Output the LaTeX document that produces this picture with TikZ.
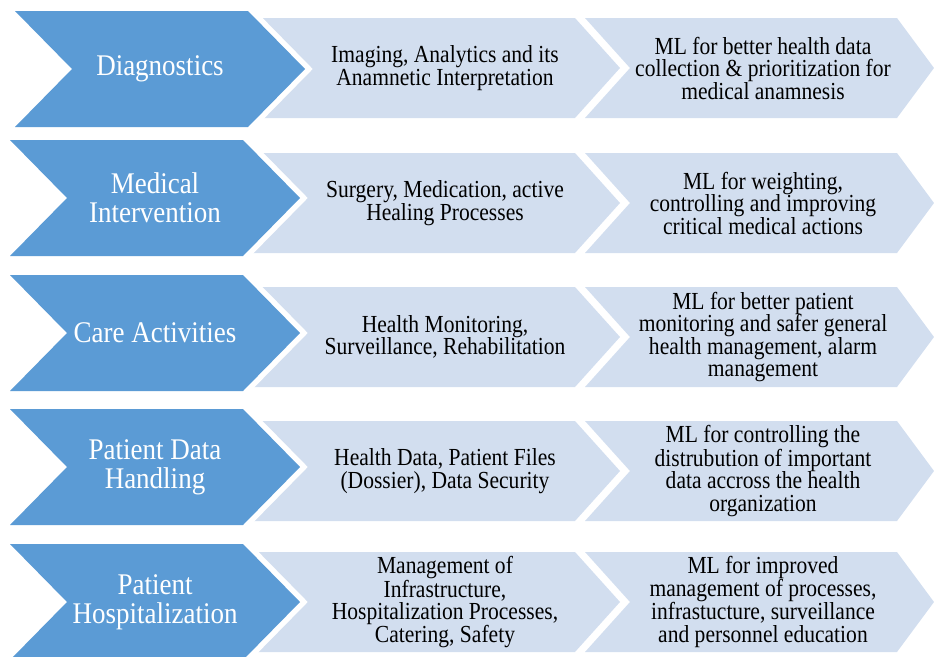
\documentclass[tikz,border=0pt]{standalone}
\usepackage{fontspec}
\setmainfont{Liberation Serif}
% slightly narrowed faces, so that the letters stand a little taller
\newfontfamily\headface{Liberation Serif}[FakeStretch=0.9]
\newfontfamily\bodyface{Liberation Serif}[FakeStretch=0.88]
\definecolor{stepdark}{RGB}{91,155,213}
\definecolor{steplight}{RGB}{210,222,239}

% One row of the process: dark heading chevron, then two light chevrons.
% #1 left x of heading chevron, #2 its top y, #3 top y of light chevrons,
% #4 name prefix, #5 heading, #6 middle text, #7 right text
\newcommand{\processrow}[7]{%
  \fill[lightarrow] (250,#3) -- (575,#3) -- (620,#3+50) -- (575,#3+100)
        -- (250,#3+100) -- (295,#3+50) -- cycle;
  \fill[lightarrow] (585,#3) -- (897,#3) -- (934,#3+50) -- (897,#3+100)
        -- (585,#3+100) -- (630,#3+50) -- cycle;
  \fill[darkarrow] (#1,#2) -- (#1+233,#2) -- (#1+290,#2+58) -- (#1+233,#2+116)
        -- (#1,#2+116) -- (#1+57,#2+58) -- cycle;
  \node[headtext] (#4-head) at (#1+145,#2+58) {#5};
  \node[bodytext] (#4-mid) at (445,#3+50) {#6};
  \node[bodytext] (#4-ml) at (763,#3+50) {#7};
}

\begin{document}
\begin{tikzpicture}[x=1pt,y=-1pt,
  darkarrow/.style={fill=stepdark,
    preaction={draw=white, line width=11pt, line join=miter}},
  lightarrow/.style={fill=steplight},
  headtext/.style={text=white, font=\headface\fontsize{30}{29}\selectfont,
    align=center, inner sep=0pt},
  bodytext/.style={text=black, font=\bodyface\fontsize{24.5}{22.5}\selectfont,
    align=center, inner sep=0pt}]
\clip (0,0) rectangle (934,656);

\processrow{15}{11}{18}{diag}{Diagnostics}
  {Imaging, Analytics and its\\Anamnetic Interpretation}
  {ML for better health data\\collection \& prioritization for\\medical anamnesis}

\processrow{10}{140}{153}{interv}{Medical\\Intervention}
  {Surgery, Medication, active\\Healing Processes}
  {ML for weighting,\\controlling and improving\\critical medical actions}

\processrow{10}{275}{287}{care}{Care Activities}
  {Health Monitoring,\\Surveillance, Rehabilitation}
  {ML for better patient\\monitoring and safer general\\health management, alarm\\management}

\processrow{10}{409}{421}{data}{Patient Data\\Handling}
  {Health Data, Patient Files\\(Dossier), Data Security}
  {ML for controlling the\\distrubution of important\\data accross the health\\organization}

\processrow{10}{544}{552}{hosp}{Patient\\Hospitalization}
  {Management of\\Infrastructure,\\Hospitalization Processes,\\Catering, Safety}
  {ML for improved\\management of processes,\\infrastucture, surveillance\\and personnel education}
\end{tikzpicture}
\end{document}
